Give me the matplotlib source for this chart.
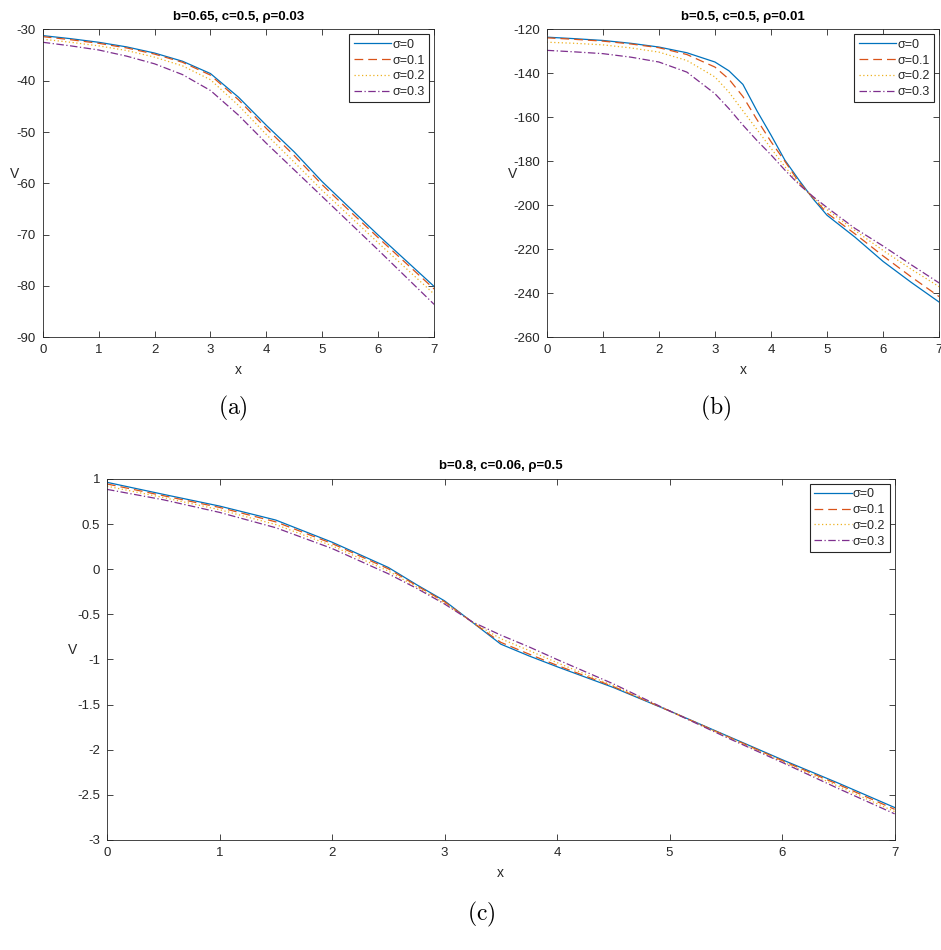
import numpy as np
import matplotlib.pyplot as plt

plt.rcParams["font.family"] = ["Liberation Sans", "DejaVu Sans"]
plt.rcParams["mathtext.fontset"] = "cm"

labels = ["σ=0", "σ=0.1", "σ=0.2", "σ=0.3"]
colors = ["#0072BD", "#D95319", "#EDB120", "#7E2F8E"]
styles = ["-", (0, (7, 4)), (0, (1, 2)), (0, (6, 2, 1, 2))]

# panel (a): b=0.65, c=0.5, rho=0.03
xa = [0, 0.5, 1, 1.5, 2, 2.5, 3, 3.5, 4, 4.5, 5, 5.5, 6, 6.5, 7]
va = [
    [-31.2, -31.8, -32.5, -33.4, -34.6, -36.2, -38.6, -43.2, -48.7, -53.9, -59.7, -64.9, -70.1, -75.1, -80.1],
    [-31.4, -32.0, -32.7, -33.6, -34.8, -36.4, -38.9, -43.7, -49.3, -54.6, -60.3, -65.5, -70.6, -75.6, -80.6],
    [-31.9, -32.5, -33.2, -34.1, -35.4, -37.1, -39.8, -44.8, -50.5, -55.9, -61.4, -66.5, -71.6, -76.6, -81.6],
    [-32.5, -33.2, -34.0, -35.2, -36.7, -38.8, -41.9, -46.7, -52.2, -57.4, -62.6, -67.8, -73.0, -78.3, -83.6],
]

# panel (b): b=0.5, c=0.5, rho=0.01
xb = [0, 0.5, 1, 1.5, 2, 2.5, 3, 3.25, 3.5, 3.75, 4, 4.25, 4.5, 4.75, 5, 5.5, 6, 6.5, 7]
vb = [
    [-123.5, -124.2, -125.0, -126.3, -128.0, -130.6, -134.8, -138.8, -145.0, -157.0, -168.0, -179.5, -188.5, -197.0, -204.5, -214.5, -225.5, -235.0, -244.0],
    [-123.8, -124.5, -125.3, -126.6, -128.3, -131.4, -137.1, -142.6, -150.5, -161.0, -171.0, -180.0, -189.5, -196.5, -203.5, -213.0, -223.0, -232.5, -241.5],
    [-125.8, -126.3, -127.0, -128.4, -130.3, -134.1, -141.6, -148.5, -157.0, -165.5, -174.0, -182.5, -190.0, -196.5, -202.0, -211.5, -220.5, -229.0, -237.0],
    [-129.5, -130.2, -131.0, -132.6, -134.8, -139.4, -149.2, -156.0, -163.5, -170.5, -177.0, -184.0, -190.5, -196.0, -201.0, -210.5, -218.5, -227.0, -235.3],
]

# panel (c): b=0.8, c=0.06, rho=0.5
xc = [0, 0.5, 1, 1.5, 2, 2.5, 2.75, 3, 3.25, 3.5, 3.75, 4, 4.5, 5, 5.5, 6, 6.5, 7]
vc = [
    [0.963, 0.830, 0.700, 0.545, 0.300, 0.020, -0.170, -0.350, -0.590, -0.830, -0.960, -1.080, -1.310, -1.570, -1.840, -2.110, -2.370, -2.640],
    [0.945, 0.815, 0.685, 0.525, 0.285, 0.005, -0.180, -0.360, -0.590, -0.810, -0.940, -1.065, -1.300, -1.570, -1.845, -2.120, -2.385, -2.660],
    [0.920, 0.795, 0.660, 0.495, 0.260, -0.020, -0.195, -0.375, -0.588, -0.770, -0.900, -1.035, -1.290, -1.570, -1.850, -2.130, -2.405, -2.685],
    [0.885, 0.770, 0.630, 0.460, 0.230, -0.050, -0.210, -0.385, -0.585, -0.730, -0.860, -1.000, -1.270, -1.570, -1.860, -2.140, -2.430, -2.710],
]

panels = [
    ("b=0.65, c=0.5, ρ=0.03", xa, va, (-90, -30), np.arange(-90, -29, 10),
     [0.0454, 0.645, 0.416, 0.324], (-0.071, 0.532), "(a)", (0.248, 0.57)),
    ("b=0.5, c=0.5, ρ=0.01", xb, vb, (-260, -120), np.arange(-260, -119, 20),
     [0.581, 0.645, 0.417, 0.324], (-0.087, 0.532), "(b)", (0.76, 0.57)),
    ("b=0.8, c=0.06, ρ=0.5", xc, vc, (-3, 1), np.arange(-3, 1.01, 0.5),
     [0.1137, 0.1158, 0.837, 0.38], (-0.044, 0.526), "(c)", (0.511, 0.037)),
]

fig = plt.figure(figsize=(9.41, 9.5), dpi=100)
grey = "#262626"
for title, x, vals, ylim, yticks, pos, vpos, cap, cpos in panels:
    ax = fig.add_axes(pos)
    for v, lab, col, ls in zip(vals, labels, colors, styles):
        ax.plot(x, v, color=col, linestyle=ls, linewidth=0.9, label=lab)
    ax.set_xlim(0, 7)
    ax.set_ylim(*ylim)
    ax.set_yticks(yticks)
    ax.set_yticklabels([f"{t:g}" for t in yticks])
    ax.set_xticks(range(8))
    ax.tick_params(direction="in", top=True, right=True, labelsize=9.5, colors=grey,
                   length=4, width=0.6, pad=5)
    for s in ax.spines.values():
        s.set_linewidth(0.6)
        s.set_color(grey)
    ax.set_title(title, fontsize=9.5, fontweight="bold", color="black", pad=7)
    ax.set_xlabel("x", fontsize=10, color=grey, labelpad=5)
    ax.set_ylabel("V", fontsize=10, color=grey, rotation=0, va="center", ha="center")
    ax.yaxis.set_label_coords(*vpos)
    leg = ax.legend(loc="upper right", fontsize=9, handlelength=3.0, handletextpad=0.1,
                    borderpad=0.35, labelspacing=0.3, fancybox=False, framealpha=1,
                    edgecolor=grey, borderaxespad=0.4)
    leg.get_frame().set_linewidth(0.8)
    for t in leg.get_texts():
        t.set_color(grey)
    fig.text(cpos[0], cpos[1], r"$\mathrm{" + cap + "}$", fontsize=17, ha="center", va="center")

fig.savefig("out.png", dpi=100)
